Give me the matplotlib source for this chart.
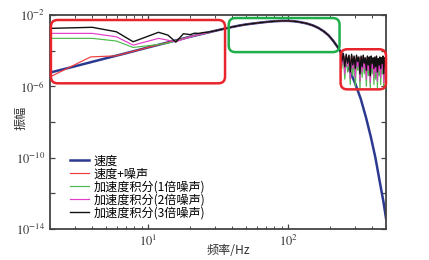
import numpy as np
import matplotlib
matplotlib.use('Agg')
import matplotlib.pyplot as plt
from matplotlib.patches import FancyBboxPatch
from matplotlib.ticker import FixedLocator, FuncFormatter, LogLocator, NullLocator

plt.rcParams['font.family'] = ['Noto Sans CJK SC', 'DejaVu Sans']
plt.rcParams['mathtext.fontset'] = 'stix'

# velocity curve (log10 of amplitude)
vel_f = [2, 3, 5, 7, 10, 15, 20, 25, 30, 35, 40, 45, 50, 60, 70, 80, 90, 100, 110, 120,
         135, 150, 165, 180, 195, 210, 225, 233, 240, 260, 280, 300, 330, 360, 390, 420,
         450, 480, 500]
vel_e = [-5.23, -4.88, -4.43, -4.14, -3.82, -3.47, -3.22, -3.04, -2.89, -2.77, -2.67, -2.59,
         -2.53, -2.45, -2.39, -2.35, -2.33, -2.33, -2.35, -2.39, -2.47, -2.58, -2.73, -2.92,
         -3.15, -3.45, -3.78, -3.97, -4.15, -4.70, -5.25, -5.80, -6.70, -7.75, -8.85, -10.0,
         -11.3, -12.5, -13.4]

# low frequency part of each noisy curve
red_lo_f = [2.0, 3.9, 5.9]
red_lo_e = [-5.47, -4.35, -4.29]
green_lo_f = [2.0, 4.0, 5.95, 7.84, 13.5, 15.8]
green_lo_e = [-3.31, -3.31, -3.46, -3.82, -3.60, -3.45]
mag_lo_f = [2.0, 4.0, 5.95, 7.84, 11.9, 15.8]
mag_lo_e = [-3.03, -3.03, -3.22, -3.69, -3.31, -3.50]
black_lo_f = [2.0, 4.0, 5.95, 7.84, 11.9, 13.9, 15.8, 17.9, 20.0, 21.5, 23.0, 25.0, 27.0, 30.0]
black_lo_e = [-2.75, -2.69, -2.94, -3.50, -2.97, -3.13, -3.52, -3.05, -3.10, -3.02, -3.03, -2.98, -2.96, -2.89]

# high frequency noisy part
hi_f = [236, 242, 248, 254, 260, 266, 272, 278, 284, 290, 296, 302, 308, 314, 320,
        326, 332, 338, 344, 350, 356, 362, 368, 374, 380, 386, 392, 398, 404, 410,
        416, 422, 428, 434, 440, 446, 452, 458, 464, 470, 476, 482, 488, 494, 500]
red_hi_e = [-4.1, -4.5, -4.2, -4.7, -4.25, -4.6, -4.3, -4.8, -4.25, -4.6, -4.35, -4.75, -4.3, -4.5,
            -4.4, -4.8, -4.35, -4.6, -4.3, -4.55, -4.45, -4.8, -4.35, -4.6, -4.4, -4.85, -4.35,
            -4.6, -4.45, -4.75, -4.4, -4.65, -4.35, -4.8, -4.5, -4.6, -4.4, -4.75, -4.45, -4.6,
            -4.35, -4.85, -4.45, -4.6, -4.5]
green_hi_e = [-4.2, -5.0, -4.3, -5.6, -4.35, -5.2, -4.4, -5.9, -4.35, -5.4, -4.45, -6.0, -4.4, -5.1,
              -4.5, -6.1, -4.45, -5.5, -4.4, -5.3, -4.55, -6.0, -4.45, -5.4, -4.5, -6.1, -4.45,
              -5.3, -4.55, -5.9, -4.5, -5.6, -4.45, -6.1, -4.6, -5.4, -4.5, -5.9, -4.55, -5.3,
              -4.45, -6.15, -4.55, -5.6, -4.5]
mag_hi_e = [-4.15, -4.8, -4.2, -5.3, -4.3, -4.9, -4.35, -5.6, -4.3, -5.0, -4.4, -5.5, -4.35, -4.9,
            -4.45, -5.7, -4.4, -5.2, -4.35, -5.0, -4.5, -5.6, -4.4, -5.1, -4.45, -5.8, -4.4,
            -5.0, -4.5, -5.5, -4.45, -5.2, -4.4, -5.7, -4.55, -5.1, -4.45, -5.5, -4.5, -5.0,
            -4.4, -5.8, -4.5, -5.2, -4.45]
black_hi_e = [-4.05, -4.6, -4.15, -4.9, -4.2, -4.7, -4.25, -5.2, -4.2, -4.8, -4.3, -5.0, -4.25, -4.6,
              -4.35, -5.3, -4.3, -4.9, -4.25, -4.7, -4.4, -5.1, -4.3, -4.8, -4.35, -5.4, -4.3,
              -4.7, -4.4, -5.0, -4.35, -4.9, -4.3, -5.2, -4.45, -4.8, -4.35, -5.0, -4.4, -4.7,
              -4.3, -5.3, -4.4, -4.8, -4.45]

labels = ['速度', '速度+噪声', '加速度积分(1倍噪声)', '加速度积分(2倍噪声)', '加速度积分(3倍噪声)']
colors = ['#2b3990', '#f03c3c', '#4cbb4c', '#e23cc8', '#111111']


def build(lo_f, lo_e, hi_e):
    mid = [(f, e) for f, e in zip(vel_f, vel_e) if lo_f[-1] < f <= 233]
    f = list(lo_f) + [m[0] for m in mid] + hi_f
    e = list(lo_e) + [m[1] for m in mid] + hi_e
    return np.array(f), 10.0 ** np.array(e)


series = [
    (np.array(vel_f), 10.0 ** np.array(vel_e)),
    build(red_lo_f, red_lo_e, red_hi_e),
    build(green_lo_f, green_lo_e, green_hi_e),
    build(mag_lo_f, mag_lo_e, mag_hi_e),
    build(black_lo_f, black_lo_e, black_hi_e),
]

fig = plt.figure(figsize=(4.29, 2.60), dpi=100)
ax = fig.add_axes([0.1166, 0.1192, 0.7832, 0.8231])

for i, (f, a) in enumerate(series):
    lw = 1.8 if i == 0 else (1.0 if i == 4 else 0.85)
    ax.plot(f, a, color=colors[i], lw=lw, label=labels[i], zorder=2 + i)

ax.set_xscale('log')
ax.set_yscale('log')
ax.set_xlim(2, 500)
ax.set_ylim(1e-14, 1e-2)

ax.yaxis.set_major_locator(FixedLocator([10.0 ** k for k in range(-14, -1, 2)]))
ax.yaxis.set_minor_locator(NullLocator())
ax.yaxis.set_major_formatter(FuncFormatter(
    lambda v, p: r'$10^{%d}$' % round(np.log10(v)) if round(np.log10(v)) in (-2, -6, -10, -14) else ''))
ax.xaxis.set_major_locator(FixedLocator([10, 100]))
ax.xaxis.set_minor_locator(LogLocator(base=10, subs=np.arange(2, 10)))
ax.xaxis.set_major_formatter(FuncFormatter(lambda v, p: r'$10^{%d}$' % round(np.log10(v))))

ax.tick_params(which='both', direction='in', top=True, right=True, colors='#444444',
               labelcolor='#333333', labelsize=9)
ax.tick_params(which='major', length=3.5, width=0.9)
ax.tick_params(which='minor', length=2, width=0.7)
for s in ax.spines.values():
    s.set_color('#444444')
    s.set_linewidth(1.3)

ax.set_xlabel('频率/Hz', fontsize=8.7, color='#333333')
ax.set_ylabel('振幅', fontsize=8.7, color='#333333')
ax.xaxis.set_label_coords(0.53, -0.07)
ax.yaxis.set_label_coords(-0.068, 0.52)

ax.legend(loc='lower left', bbox_to_anchor=(0.03, 0.0), frameon=False,
          handlelength=1.6, labelspacing=0.0, borderpad=0.3, handletextpad=0.4,
          prop={'family': ['Noto Sans CJK SC', 'DejaVu Sans'], 'size': 8.7})

# highlight boxes (frequency range, log10 amplitude range)
boxes = [
    ((2.03, 35.5), (-5.83, -2.28), '#e8242c'),
    ((37.7, 233), (-4.08, -2.17), '#1fae4b'),
    ((237, 500), (-6.17, -3.92), '#e8242c'),
]
to_axes = ax.transData + ax.transAxes.inverted()
aspect = 336 / 214
for (f0, f1), (e0, e1), c in boxes:
    x0, y0 = to_axes.transform((f0, 10.0 ** e0))
    x1, y1 = to_axes.transform((f1, 10.0 ** e1))
    box = FancyBboxPatch((x0, y0), x1 - x0, y1 - y0, transform=ax.transAxes,
                         boxstyle='round,pad=0,rounding_size=0.02', mutation_aspect=aspect,
                         fill=False, ec=c, lw=1.8, zorder=10, clip_on=False)
    ax.add_patch(box)

fig.savefig('out.png', dpi=100)
